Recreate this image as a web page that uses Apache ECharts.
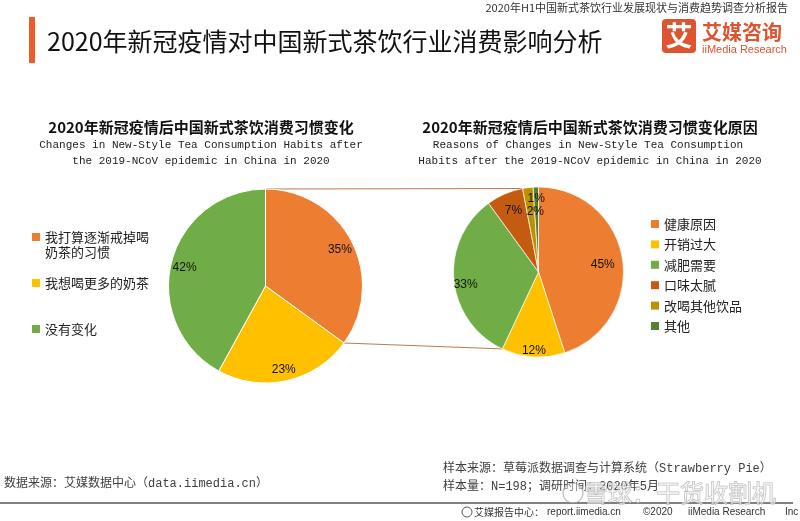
<!DOCTYPE html>
<html>
<head>
<meta charset="utf-8">
<script src="https://cdn.jsdelivr.net/npm/echarts@6/dist/echarts.min.js"></script>
<style>
  html, body { margin: 0; padding: 0; background: #fff; }
  #chart { width: 800px; height: 521px; }
</style>
</head>
<body>
<div id="chart"></div>
<script type="text/javascript">
	// 左饼图：消费习惯变化
	var habitNames = ['我打算逐渐戒掉喝奶茶的习惯', '我想喝更多的奶茶', '没有变化'];
	var habitValues = [35, 23, 42];
	var habitColors = ['#ED7D31', '#FFC000', '#70AD47'];
	// 右饼图：变化原因
	var reasonNames = ['健康原因', '开销过大', '减肥需要', '口味太腻', '改喝其他饮品', '其他'];
	var reasonValues = [45, 12, 33, 7, 2, 1];
	var reasonColors = ['#ED7D31', '#FFC000', '#70AD47', '#C55A11', '#BF9000', '#548235'];

	var cjk = '"Noto Sans CJK SC", "Microsoft YaHei", sans-serif';
	var mono = '"Liberation Mono", "Noto Sans CJK SC", monospace';
	var sans = '"Liberation Sans", Arial, sans-serif';

	var leftC = [265.5, 286], leftR = 97;
	var rightC = [538.5, 272], rightR = 85;
	// 右图标签微调（小扇区标签手动错开）
	var reasonLabelShift = [[-8, 4], [0, 6], [0, 6], [4, 6], [6, 12], [0, 0]];

	function toData(names, values, colors) {
		return names.map(function (n, i) {
			return {name: n, value: values[i], itemStyle: {color: colors[i]}};
		});
	}
	function sumTo(arr, k) {
		var s = 0;
		for (var i = 0; i < k; i++) s += arr[i];
		return s;
	}
	function piePoint(c, r, frac) {
		var a = frac * 2 * Math.PI;
		return [c[0] + r * Math.sin(a), c[1] - r * Math.cos(a)];
	}
	var habitTotal = sumTo(habitValues, habitValues.length);
	var reasonTotal = sumTo(reasonValues, reasonValues.length);
	// 连接线
	var lTop = piePoint(leftC, leftR, 0);
	var lBot = piePoint(leftC, leftR, habitValues[0] / habitTotal);
	var rTop = piePoint(rightC, rightR, sumTo(reasonValues, 4) / reasonTotal);
	var rBot = piePoint(rightC, rightR, sumTo(reasonValues, 2) / reasonTotal);

	function txt(text, x, y, font, fill, align) {
		return {
			type: 'text', x: x, y: y, z: 10,
			style: {
				text: text, font: font, fill: fill,
				align: align || 'left', verticalAlign: 'middle',
				textAlign: align || 'left', textVerticalAlign: 'middle'
			}
		};
	}

	var labelStyle = {
		show: true, position: 'inside', formatter: '{c}%',
		color: '#111', fontSize: 12, fontFamily: sans
	};
	var legendBase = {
		padding: 0, orient: 'vertical', icon: 'rect', itemWidth: 8, itemHeight: 8,
		selectedMode: false, itemStyle: {borderWidth: 0}
	};
	function legend(extra) {
		var o = {};
		for (var k in legendBase) o[k] = legendBase[k];
		for (var j in extra) o[j] = extra[j];
		return o;
	}

	var option = {
		animation: false,
		legend: [
			legend({
				data: [habitNames[0]], left: 32, top: 214.5,
				formatter: function (name) { return ' \n' + name.slice(0, 8) + '\n' + name.slice(8); },
				textStyle: {fontSize: 13, lineHeight: 15, color: '#222', fontFamily: cjk}
			}),
			legend({
				data: habitNames.slice(1), left: 32, top: 275.5, itemGap: 31,
				textStyle: {fontSize: 13, lineHeight: 15, color: '#222', fontFamily: cjk}
			}),
			legend({
				data: reasonNames, left: 651, top: 216.5, itemGap: 5.4,
				textStyle: {fontSize: 13, lineHeight: 15, color: '#222', fontFamily: cjk}
			})
		],
		series: [
			{
				name: '消费习惯变化', type: 'pie', center: leftC, radius: [0, leftR],
				startAngle: 90, clockwise: true, silent: true,
				label: {show: false}, labelLine: {show: false},
				itemStyle: {borderColor: '#fff', borderWidth: 1},
				data: toData(habitNames, habitValues, habitColors)
			},
			{
				name: '消费习惯变化标签', type: 'pie', center: leftC, radius: [leftR * 0.66, leftR],
				startAngle: 90, clockwise: true, silent: true, legendHoverLink: false,
				label: labelStyle, labelLine: {show: false},
				itemStyle: {color: 'rgba(0,0,0,0)'},
				labelLayout: {dy: 2},
				data: habitNames.map(function (n, i) { return {name: n, value: habitValues[i]}; })
			},
			{
				name: '变化原因', type: 'pie', center: rightC, radius: [0, rightR],
				startAngle: 90, clockwise: true, silent: true,
				label: {show: false}, labelLine: {show: false},
				itemStyle: {borderColor: '#fff', borderWidth: 0.7},
				data: toData(reasonNames, reasonValues, reasonColors)
			},
			{
				name: '变化原因标签', type: 'pie', center: rightC, radius: [rightR * 0.65, rightR],
				startAngle: 90, clockwise: true, silent: true, legendHoverLink: false,
				label: labelStyle, labelLine: {show: false},
				itemStyle: {color: 'rgba(0,0,0,0)'},
				labelLayout: function (p) {
					var s = reasonLabelShift[p.dataIndex];
					return {dx: s[0], dy: s[1]};
				},
				data: reasonNames.map(function (n, i) { return {name: n, value: reasonValues[i]}; })
			}
		],
		graphic: [
			// 顶部
			txt('2020年H1中国新式茶饮行业发展现状与消费趋势调查分析报告', 788, 8, '11px ' + cjk, '#333', 'right'),
			{type: 'rect', shape: {x: 29, y: 17, width: 6, height: 46}, style: {fill: '#EE5B2C'}},
			txt('2020年新冠疫情对中国新式茶饮行业消费影响分析', 47, 41, '25px ' + cjk, '#111'),
			// logo
			{type: 'rect', shape: {x: 662, y: 19, width: 34, height: 34, r: 4}, style: {fill: '#DC5430'}},
			txt('艾', 679, 36, 'bold 27px ' + cjk, '#fff', 'center'),
			txt('艾媒咨询', 702, 32, 'bold 20px ' + cjk, '#DC5430'),
			txt('iiMedia Research', 702, 50, '11px ' + sans, '#DC5430'),
			// 小标题
			txt('2020年新冠疫情后中国新式茶饮消费习惯变化', 201, 127, 'bold 15px ' + cjk, '#111', 'center'),
			txt('Changes in New-Style Tea Consumption Habits after', 201, 145, '11px ' + mono, '#222', 'center'),
			txt('the 2019-NCoV epidemic in China in 2020', 201, 161, '11px ' + mono, '#222', 'center'),
			txt('2020年新冠疫情后中国新式茶饮消费习惯变化原因', 590, 127, 'bold 15px ' + cjk, '#111', 'center'),
			txt('Reasons of Changes in New-Style Tea Consumption', 588, 145, '11px ' + mono, '#222', 'center'),
			txt('Habits after the 2019-NCoV epidemic in China in 2020', 590, 161, '11px ' + mono, '#222', 'center'),
			// 连接线
			{type: 'line', shape: {x1: lTop[0], y1: lTop[1], x2: rTop[0], y2: rTop[1]}, style: {stroke: '#C07A45', lineWidth: 1}},
			{type: 'line', shape: {x1: lBot[0], y1: lBot[1], x2: rBot[0], y2: rBot[1]}, style: {stroke: '#C07A45', lineWidth: 1}},
			// 底部
			txt('数据来源：艾媒数据中心（data.iimedia.cn）', 4, 484, '12px ' + mono, '#404040'),
			txt('样本来源：草莓派数据调查与计算系统（Strawberry Pie）', 443, 469, '12px ' + mono, '#404040'),
			txt('样本量：N=198；调研时间：2020年5月', 443, 487, '12px ' + mono, '#404040'),
			{type: 'line', shape: {x1: 0, y1: 503, x2: 793, y2: 503}, style: {stroke: '#808080', lineWidth: 2}},
			{type: 'circle', shape: {cx: 467, cy: 512, r: 5}, style: {fill: 'none', stroke: '#555', lineWidth: 1}},
			txt('艾媒报告中心：', 474, 512, '10px ' + cjk, '#333'),
			txt('report.iimedia.cn', 547, 512, '10px ' + sans, '#333'),
			txt('©2020', 643, 512, '10px ' + sans, '#333'),
			txt('iiMedia Research', 688, 512, '10px ' + sans, '#333'),
			txt('Inc', 785, 512, '10px ' + sans, '#333'),
			// 水印
			{type: 'circle', shape: {cx: 573, cy: 493, r: 10}, z: 20, style: {fill: 'rgba(255,255,255,0.4)', stroke: 'rgba(160,160,160,0.7)', lineWidth: 1.2}},
			{type: 'text', x: 584, y: 493, z: 20, style: {
				text: '雪球：干货收割机', font: '24px ' + cjk, fill: 'rgba(255,255,255,0.55)',
				stroke: 'rgba(160,160,160,0.75)', lineWidth: 1,
				align: 'left', verticalAlign: 'middle', textAlign: 'left', textVerticalAlign: 'middle'
			}}
		]
	};

	var myChart = echarts.init(document.getElementById('chart'));
	myChart.setOption(option);
</script>
</body>
</html>
